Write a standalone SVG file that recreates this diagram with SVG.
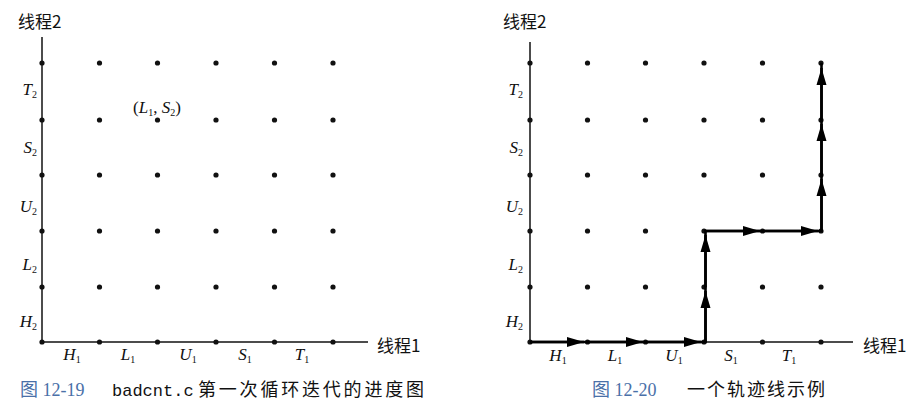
<svg xmlns="http://www.w3.org/2000/svg" width="921" height="410" viewBox="0 0 921 410">
<style>
.axis{stroke:#111;stroke-width:1.5;fill:none}
.dot{fill:#111}
.lab{font-family:"Liberation Serif",serif;font-style:italic;font-size:17px;fill:#111}
.sub{font-size:10px;font-style:normal}
.cn{font-family:"Noto Sans CJK SC","Noto Sans",sans-serif;font-size:17px;fill:#111}
.cap{font-family:"Noto Sans CJK SC",sans-serif;font-size:18px;fill:#111}
.capnum{font-family:"Liberation Serif","Noto Sans CJK SC",serif;font-size:18px;fill:#4a70a8}
.mono{font-family:"Liberation Mono",monospace;font-size:17px;fill:#111}
.trail{stroke:#000;stroke-width:2.6;fill:none}
.seg{stroke:#000;stroke-width:2.6;marker-end:url(#ah)}
</style>
<defs>
<marker id="ah" markerUnits="userSpaceOnUse" markerWidth="17" markerHeight="12" viewBox="0 0 17 12" refX="17" refY="6" orient="auto">
<path d="M0,1 L17,6 L0,11 z" fill="#000"/>
</marker>
<g id="row">
<circle class="dot" cx="0" cy="0" r="2.6"/>
<circle class="dot" cx="57.5" cy="0" r="2.6"/>
<circle class="dot" cx="115.5" cy="0" r="2.6"/>
<circle class="dot" cx="174" cy="0" r="2.6"/>
<circle class="dot" cx="232.5" cy="0" r="2.6"/>
<circle class="dot" cx="291" cy="0" r="2.6"/>
</g>
</defs>
<rect width="921" height="410" fill="#fff"/>

<!-- Left diagram: Fig 12-19 -->
<g id="fig1219">
<g id="axes-left">
<line class="axis" x1="42" y1="37" x2="42" y2="342"/>
<line class="axis" x1="42" y1="342" x2="368" y2="342"/>
</g>
<g id="dots-left">
<use href="#row" x="42" y="63"/>
<use href="#row" x="42" y="120"/>
<use href="#row" x="42" y="175"/>
<use href="#row" x="42" y="231"/>
<use href="#row" x="42" y="287"/>
<use href="#row" x="42" y="342"/>
</g>
<g id="ylabels-left" text-anchor="end">
<text class="lab" x="37" y="95">T<tspan class="sub" dy="3">2</tspan></text>
<text class="lab" x="37" y="153">S<tspan class="sub" dy="3">2</tspan></text>
<text class="lab" x="37" y="212">U<tspan class="sub" dy="3">2</tspan></text>
<text class="lab" x="37" y="270">L<tspan class="sub" dy="3">2</tspan></text>
<text class="lab" x="37" y="327">H<tspan class="sub" dy="3">2</tspan></text>
</g>
<g id="xlabels-left" text-anchor="middle">
<text class="lab" x="72" y="360">H<tspan class="sub" dy="3">1</tspan></text>
<text class="lab" x="128" y="360">L<tspan class="sub" dy="3">1</tspan></text>
<text class="lab" x="188" y="360">U<tspan class="sub" dy="3">1</tspan></text>
<text class="lab" x="245" y="360">S<tspan class="sub" dy="3">1</tspan></text>
<text class="lab" x="302" y="360">T<tspan class="sub" dy="3">1</tspan></text>
</g>
<g id="point-label">
<text class="lab" x="133" y="113"><tspan font-style="normal">(</tspan>L<tspan class="sub" dy="3">1</tspan><tspan font-style="normal" dy="-3">, </tspan>S<tspan class="sub" dy="3">2</tspan><tspan font-style="normal" dy="-3">)</tspan></text>
</g>
<text class="cn" x="18" y="28">线程2</text>
<text class="cn" x="377" y="352">线程1</text>
<g id="caption-left">
<text class="capnum" x="20" y="396">图 12-19</text>
<text class="mono" x="112" y="396">badcnt.c</text>
<text class="cap" x="198" y="396" letter-spacing="2.8">第一次循环迭代的进度图</text>
</g>
</g>

<!-- Right diagram: Fig 12-20 -->
<g id="fig1220">
<g id="axes-right">
<line class="axis" x1="530" y1="42" x2="530" y2="342"/>
<line class="axis" x1="530" y1="342" x2="853" y2="342"/>
</g>
<g id="dots-right">
<use href="#row" x="530" y="63"/>
<use href="#row" x="530" y="120"/>
<use href="#row" x="530" y="175"/>
<use href="#row" x="530" y="231"/>
<use href="#row" x="530" y="287"/>
<use href="#row" x="530" y="342"/>
</g>
<g id="connectors">
<polyline class="trail" points="530,342 705.5,342 705.5,231 821.5,231 821.5,63"/>
<line class="seg" x1="530" y1="342" x2="584" y2="342"/>
<line class="seg" x1="587.5" y1="342" x2="643" y2="342"/>
<line class="seg" x1="645.5" y1="342" x2="701" y2="342"/>
<line class="seg" x1="705.5" y1="342" x2="705.5" y2="291"/>
<line class="seg" x1="705.5" y1="287" x2="705.5" y2="235"/>
<line class="seg" x1="705.5" y1="231" x2="760" y2="231"/>
<line class="seg" x1="762.5" y1="231" x2="818" y2="231"/>
<line class="seg" x1="821.5" y1="231" x2="821.5" y2="179"/>
<line class="seg" x1="821.5" y1="175" x2="821.5" y2="124"/>
<line class="seg" x1="821.5" y1="120" x2="821.5" y2="68"/>
</g>
<g id="ylabels-right" text-anchor="end">
<text class="lab" x="523" y="95">T<tspan class="sub" dy="3">2</tspan></text>
<text class="lab" x="523" y="153">S<tspan class="sub" dy="3">2</tspan></text>
<text class="lab" x="523" y="212">U<tspan class="sub" dy="3">2</tspan></text>
<text class="lab" x="523" y="270">L<tspan class="sub" dy="3">2</tspan></text>
<text class="lab" x="523" y="327">H<tspan class="sub" dy="3">2</tspan></text>
</g>
<g id="xlabels-right" text-anchor="middle">
<text class="lab" x="558" y="361">H<tspan class="sub" dy="3">1</tspan></text>
<text class="lab" x="615" y="361">L<tspan class="sub" dy="3">1</tspan></text>
<text class="lab" x="674" y="361">U<tspan class="sub" dy="3">1</tspan></text>
<text class="lab" x="731" y="361">S<tspan class="sub" dy="3">1</tspan></text>
<text class="lab" x="789" y="361">T<tspan class="sub" dy="3">1</tspan></text>
</g>
<text class="cn" x="503" y="28">线程2</text>
<text class="cn" x="863" y="352">线程1</text>
<g id="caption-right">
<text class="capnum" x="592" y="396">图 12-20</text>
<text class="cap" x="687" y="396" letter-spacing="2">一个轨迹线示例</text>
</g>
</g>
</svg>
